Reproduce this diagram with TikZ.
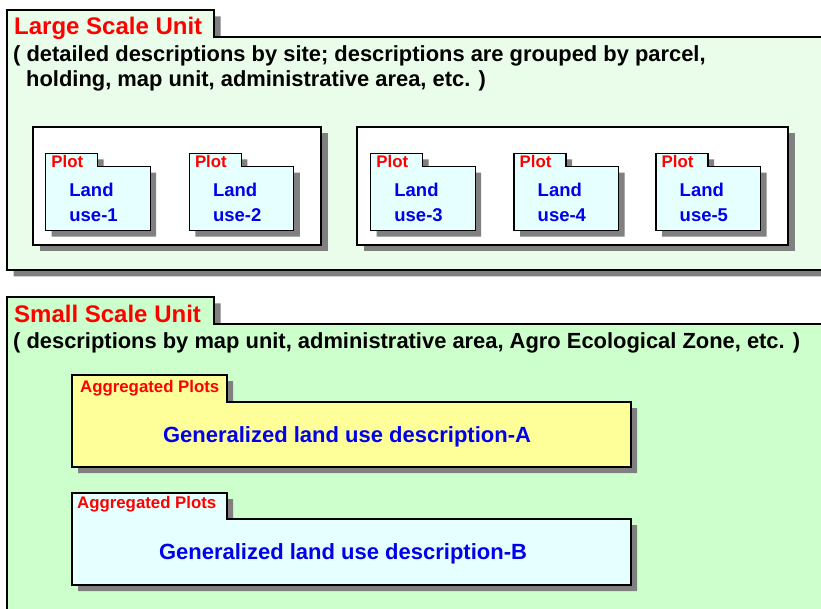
\documentclass[tikz,border=0pt]{standalone}
\usepackage{fontspec}
\setmainfont{Liberation Sans}
\definecolor{largebg}{RGB}{234,253,234}
\definecolor{smallbg}{RGB}{204,255,204}
\definecolor{plotfill}{RGB}{230,255,255}
\definecolor{aggyellow}{RGB}{255,255,153}
\definecolor{shadowgray}{RGB}{128,128,128}
\definecolor{titlered}{RGB}{255,0,0}
\definecolor{bodyblue}{RGB}{0,0,235}

% folder outline: left, top, tab right, body top, right, bottom, shadow offset, fill
\newcommand{\foldershape}[8]{%
  \fill[shadowgray] (#1+#7,#2+#7) -- (#3+#7,#2+#7) -- (#3+#7,#4+#7) -- (#5+#7,#4+#7)
    -- (#5+#7,#6+#7) -- (#1+#7,#6+#7) -- cycle;
  \draw[outline,fill=#8] (#1,#2) -- (#3,#2) -- (#3,#4) -- (#5,#4) -- (#5,#6)
    -- (#1,#6) -- cycle;
}
% plain panel with drop shadow: left, top, right, bottom, shadow offset, fill
\newcommand{\panelshape}[6]{%
  \fill[shadowgray] (#1+#5,#2+#5) rectangle (#3+#5,#4+#5);
  \draw[outline,fill=#6] (#1,#2) rectangle (#3,#4);
}

\tikzset{
  outline/.style={draw=black, line width=1.2pt, line join=miter},
  unittitle/.style={anchor=base west, inner sep=0pt, text=titlered,
    font=\bfseries\fontsize{24}{28}\selectfont},
  unitdesc/.style={anchor=base west, inner sep=0pt, text=black,
    font=\bfseries\fontsize{21.9}{26}\selectfont},
  tablabel/.style={anchor=base west, inner sep=0pt, text=titlered,
    font=\bfseries\fontsize{16.8}{19}\selectfont},
  landlabel/.style={anchor=base west, inner sep=0pt, text=bodyblue,
    font=\bfseries\fontsize{18.5}{22}\selectfont},
  genlabel/.style={anchor=base, inner sep=0pt, text=bodyblue,
    font=\bfseries\fontsize{22}{26}\selectfont},
}

\begin{document}
\begin{tikzpicture}[x=1pt,y=-1pt]
\useasboundingbox (0,0) rectangle (821,609);
\clip (0,0) rectangle (821,609);
\fill[white] (0,0) rectangle (821,609);

% large scale unit
\foldershape{7}{10}{214}{37}{850}{270}{6.5}{largebg}
\node[unittitle] (largetitle) at (14,35) {Large Scale Unit};
\node[unitdesc] (largedesc1) at (13,62)
  {( detailed descriptions by site; descriptions are grouped by parcel,};
\node[unitdesc] (largedesc2) at (26,87)
  {holding, map unit, administrative area, etc. )};

\panelshape{33}{127}{321}{245}{6.5}{white}
\panelshape{357}{127}{788}{245}{6.5}{white}

\foreach \lx [count=\i] in {45.7,189.3,370.7,514,656} {
  \foldershape{\lx}{153.3}{\lx+52}{166.7}{\lx+104.5}{230.7}{6}{plotfill}
  \node[tablabel] (plot\i) at (\lx+5.5,168) {Plot};
  \node[landlabel] (land\i) at (\lx+23.5,197) {Land};
  \node[landlabel] (use\i) at (\lx+23.5,222) {use-\i};
}

% small scale unit
\foldershape{7}{297}{214}{324}{850}{650}{6.5}{smallbg}
\node[unittitle] (smalltitle) at (14,322) {Small Scale Unit};
\node[unitdesc] (smalldesc) at (13,348)
  {( descriptions by map unit, administrative area, Agro Ecological Zone, etc. )};

\foldershape{72}{375}{227}{402}{631}{467}{6}{aggyellow}
\node[tablabel] (aggA) at (80,392) {Aggregated Plots};
\node[genlabel] (genA) at (347,442) {Generalized land use description-A};

\foldershape{72}{493}{227}{519}{631}{585}{6}{plotfill}
\node[tablabel] (aggB) at (77,508) {Aggregated Plots};
\node[genlabel] (genB) at (343,559) {Generalized land use description-B};
\end{tikzpicture}
\end{document}
